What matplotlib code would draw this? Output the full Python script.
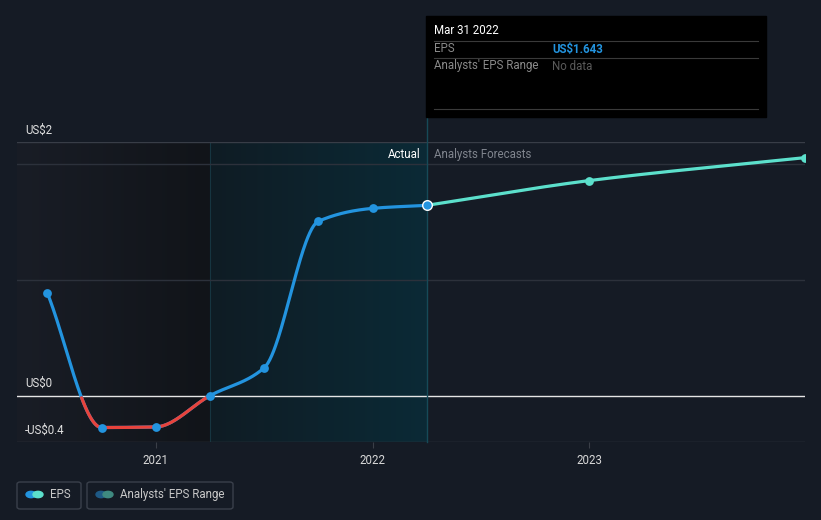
import numpy as np
import matplotlib.pyplot as plt
from matplotlib.patches import FancyBboxPatch, Rectangle
from matplotlib.lines import Line2D
from matplotlib.colors import LinearSegmentedColormap

plt.rcParams['font.family'] = ['Roboto', 'DejaVu Sans']

# data (decimal years)
actual_x = [2020.5, 2020.75, 2021.0, 2021.25, 2021.5, 2021.75, 2022.0, 2022.25]
actual_eps = [0.886, -0.275, -0.27, 0.0, 0.24, 1.505, 1.617, 1.643]
forecast_x = [2022.25, 2023.0, 2023.995]
forecast_eps = [1.643, 1.857, 2.055]
year_ticks = [2021, 2022, 2023]
y_labels = {2.0: 'US$2', 0.0: 'US$0', -0.4: '-US$0.4'}

BG = '#151b25'
W, H = 821, 520


def monotone(x, y, n=400):
    # Fritsch-Carlson monotone cubic, like d3 curveMonotoneX
    x = np.asarray(x, float)
    y = np.asarray(y, float)
    h = np.diff(x)
    d = np.diff(y) / h
    m = np.zeros_like(y)
    m[0], m[-1] = d[0], d[-1]
    for i in range(1, len(y) - 1):
        if d[i - 1] * d[i] <= 0:
            m[i] = 0
        else:
            w1 = 2 * h[i] + h[i - 1]
            w2 = h[i] + 2 * h[i - 1]
            m[i] = (w1 + w2) / (w1 / d[i - 1] + w2 / d[i])
    xs = np.linspace(x[0], x[-1], n)
    idx = np.clip(np.searchsorted(x, xs) - 1, 0, len(x) - 2)
    t = (xs - x[idx]) / h[idx]
    h00 = 2 * t**3 - 3 * t**2 + 1
    h10 = t**3 - 2 * t**2 + t
    h01 = -2 * t**3 + 3 * t**2
    h11 = t**3 - t**2
    ys = h00 * y[idx] + h10 * h[idx] * m[idx] + h01 * y[idx + 1] + h11 * h[idx] * m[idx + 1]
    return xs, ys


fig = plt.figure(figsize=(W / 100, H / 100), dpi=100, facecolor=BG)
ax = fig.add_axes([17 / W, 1 - 442 / H, (805 - 17) / W, 300 / H])
ax.set_facecolor(BG)
x0, x1 = 2020.36, 2023.995
y0, y1 = -0.4, 2.19
ax.set_xlim(x0, x1)
ax.set_ylim(y0, y1)

# background panels
grad = np.linspace(0, 1, 256).reshape(1, -1)
past_cm = LinearSegmentedColormap.from_list('p', ['#191d26', '#111419'])
act_cm = LinearSegmentedColormap.from_list('a', ['#0f1c24', '#0b2a36'])
ax.imshow(grad, extent=[x0, 2021.25, y0, y1], aspect='auto', cmap=past_cm, zorder=0)
ax.imshow(grad, extent=[2021.25, 2022.25, y0, y1], aspect='auto', cmap=act_cm, zorder=0)
ax.axvline(2021.25, color='#163540', lw=0.8, zorder=1)

# gridlines
for g in [2.0, 1.0]:
    ax.axhline(g, color='#2c313b', lw=1, zorder=1)
ax.axhline(y1, color='#383d47', lw=1, zorder=1)
ax.axhline(y0, color='#383d47', lw=1, zorder=1)
ax.axhline(0, color='#e6e6e6', lw=1, zorder=2)

# actual line, red where negative
xs, ys = monotone(actual_x, actual_eps)
ax.plot(xs, ys, color='#2394df', lw=2.3, zorder=3, solid_capstyle='round')
neg = np.where(ys < 0, ys, np.nan)
ax.plot(xs, neg, color='#e8433c', lw=2.3, zorder=4, solid_capstyle='round')
ax.scatter(actual_x[:-1], actual_eps[:-1], s=40, color='#2394df', zorder=5, lw=0)

fx, fy = monotone(forecast_x, forecast_eps)
ax.plot(fx, fy, color='#5ce0cc', lw=2.3, zorder=3)
ax.scatter(forecast_x[1:], forecast_eps[1:], s=40, color='#5ce0cc', zorder=5, lw=0)
ax.scatter([actual_x[-1]], [actual_eps[-1]], s=48, color='#2394df',
           edgecolor='white', lw=1, zorder=6)

# hover line
ax.plot([2022.25, 2022.25], [y0, y1 + 0.75], color='#164a58', lw=1,
        zorder=2, clip_on=False)

ax.text(2022.22, 2.08, 'Actual', color='white', fontsize=8.3, ha='right', va='center')
ax.text(2022.285, 2.08, 'Analysts Forecasts', color='#80858e', fontsize=8.3,
        ha='left', va='center')

for v, s in y_labels.items():
    ypix = {2.0: 130, 0.0: 383, -0.4: 430}[v]
    fig.text(25 / W, 1 - ypix / H, s, color='#e0e0e0', fontsize=8.3, va='center', ha='left')

ax.set_xticks(year_ticks)
ax.set_xticklabels([str(t) for t in year_ticks])
ax.tick_params(axis='x', colors='#3a3f48', length=4, labelcolor='#d8d8d8',
               labelsize=8.3, pad=5)
ax.set_yticks([])
for sp in ax.spines.values():
    sp.set_visible(False)

# tooltip
fig.patches.append(Rectangle((426 / W, 1 - 117 / H), 340 / W, 101 / H,
                             transform=fig.transFigure, color='black', zorder=10))
fig.text(434 / W, 1 - 31 / H, 'Mar 31 2022', color='white', fontsize=8.3, va='center', zorder=11)
for ly in (41, 58, 109):
    fig.lines.append(Line2D([434 / W, 758 / W], [1 - ly / H] * 2, transform=fig.transFigure,
                            color='#3a3a3a', lw=0.8, zorder=11))
fig.text(434 / W, 1 - 49 / H, 'EPS', color='#8a8a8a', fontsize=8.3, va='center', zorder=11)
fig.text(552 / W, 1 - 49 / H, 'US$1.643', color='#2394df', fontsize=8.3,
         fontweight='bold', va='center', zorder=11)
fig.text(434 / W, 1 - 66 / H, "Analysts' EPS Range", color='#8a8a8a', fontsize=8.3,
         va='center', zorder=11)
fig.text(552 / W, 1 - 66 / H, 'No data', color='#5a5a5a', fontsize=8.3, va='center', zorder=11)

# legend boxes
for bx, bw, label, c1, c2 in [(17, 64, 'EPS', '#2394df', '#5ce0cc'),
                              (87, 146, "Analysts' EPS Range", '#1f5a86', '#3f8a80')]:
    fig.patches.append(FancyBboxPatch((bx / W, 1 - 509 / H), bw / W, 27 / H,
                                      boxstyle='round,pad=0,rounding_size=0.004',
                                      transform=fig.transFigure, fc='none',
                                      ec='#3a404b', lw=1))
    cy = 1 - 494.5 / H
    fig.patches.append(plt.Circle(((bx + 14) / W, cy), 5 / W, transform=fig.transFigure,
                                  color=c1))
    fig.patches.append(plt.Circle(((bx + 21) / W, cy), 5 / W, transform=fig.transFigure,
                                  color=c2))
    fig.text((bx + 33) / W, cy, label, color='#c8c8c8', fontsize=8.3, va='center')

fig.savefig('out.png', dpi=100, facecolor=BG)
